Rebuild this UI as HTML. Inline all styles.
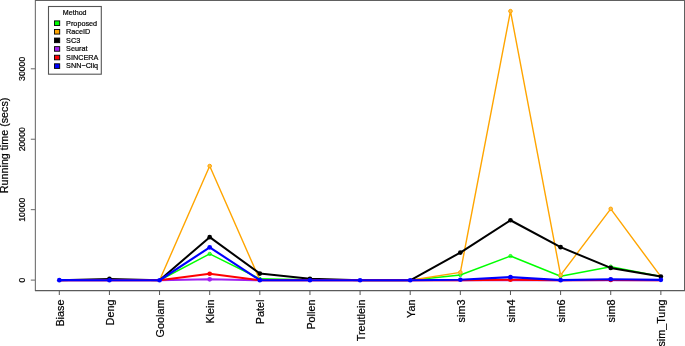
<!DOCTYPE html>
<html><head><meta charset="utf-8"><style>
html,body{margin:0;padding:0;background:#fff;}
body{width:685px;height:346px;overflow:hidden;}
svg{display:block;font-family:"Liberation Sans",sans-serif;}
</style></head><body>
<svg width="685" height="346" viewBox="0 0 685 346">
<rect width="685" height="346" fill="#fff"/>
<line x1="30.8" y1="280.10" x2="35.3" y2="280.10" stroke="#666" stroke-width="1"/>
<line x1="30.8" y1="209.67" x2="35.3" y2="209.67" stroke="#666" stroke-width="1"/>
<line x1="30.8" y1="139.23" x2="35.3" y2="139.23" stroke="#666" stroke-width="1"/>
<line x1="30.8" y1="68.80" x2="35.3" y2="68.80" stroke="#666" stroke-width="1"/>
<line x1="59.30" y1="290.5" x2="59.30" y2="295" stroke="#555" stroke-width="1"/>
<line x1="109.43" y1="290.5" x2="109.43" y2="295" stroke="#555" stroke-width="1"/>
<line x1="159.56" y1="290.5" x2="159.56" y2="295" stroke="#555" stroke-width="1"/>
<line x1="209.69" y1="290.5" x2="209.69" y2="295" stroke="#555" stroke-width="1"/>
<line x1="259.82" y1="290.5" x2="259.82" y2="295" stroke="#555" stroke-width="1"/>
<line x1="309.95" y1="290.5" x2="309.95" y2="295" stroke="#555" stroke-width="1"/>
<line x1="360.08" y1="290.5" x2="360.08" y2="295" stroke="#555" stroke-width="1"/>
<line x1="410.21" y1="290.5" x2="410.21" y2="295" stroke="#555" stroke-width="1"/>
<line x1="460.34" y1="290.5" x2="460.34" y2="295" stroke="#555" stroke-width="1"/>
<line x1="510.47" y1="290.5" x2="510.47" y2="295" stroke="#555" stroke-width="1"/>
<line x1="560.60" y1="290.5" x2="560.60" y2="295" stroke="#555" stroke-width="1"/>
<line x1="610.73" y1="290.5" x2="610.73" y2="295" stroke="#555" stroke-width="1"/>
<line x1="660.86" y1="290.5" x2="660.86" y2="295" stroke="#555" stroke-width="1"/>
<polyline points="59.30,280.25 109.43,280.25 159.56,280.25 209.69,253.95 259.82,278.85 309.95,279.65 360.08,280.35 410.21,280.35 460.34,275.05 510.47,256.05 560.60,276.25 610.73,266.65 660.86,276.45" fill="none" stroke="#00FF00" stroke-width="1.5" stroke-linejoin="round"/>
<circle cx="209.69" cy="253.95" r="1.6" fill="none" stroke="#00FF00" stroke-width="1"/>
<circle cx="259.82" cy="278.85" r="1.6" fill="none" stroke="#00FF00" stroke-width="1"/>
<circle cx="309.95" cy="279.65" r="1.6" fill="none" stroke="#00FF00" stroke-width="1"/>
<circle cx="460.34" cy="275.05" r="1.6" fill="none" stroke="#00FF00" stroke-width="1"/>
<circle cx="510.47" cy="256.05" r="1.6" fill="none" stroke="#00FF00" stroke-width="1"/>
<circle cx="560.60" cy="276.25" r="1.6" fill="none" stroke="#00FF00" stroke-width="1"/>
<circle cx="610.73" cy="266.65" r="1.6" fill="none" stroke="#00FF00" stroke-width="1"/>
<polyline points="59.30,280.25 109.43,280.25 159.56,280.25 209.69,166.05 259.82,279.95 309.95,280.25 360.08,280.25 410.21,280.25 460.34,272.35 510.47,11.15 560.60,275.15 610.73,208.85 660.86,276.65" fill="none" stroke="#FFA500" stroke-width="1.4" stroke-linejoin="round"/>
<circle cx="209.69" cy="166.05" r="1.8" fill="#FFC04D" stroke="#FFA500" stroke-width="1"/>
<circle cx="460.34" cy="272.35" r="1.8" fill="#FFC04D" stroke="#FFA500" stroke-width="1"/>
<circle cx="510.47" cy="11.15" r="1.8" fill="#FFC04D" stroke="#FFA500" stroke-width="1"/>
<circle cx="560.60" cy="275.15" r="1.8" fill="#FFC04D" stroke="#FFA500" stroke-width="1"/>
<circle cx="610.73" cy="208.85" r="1.8" fill="#FFC04D" stroke="#FFA500" stroke-width="1"/>
<polyline points="59.30,280.25 109.43,278.95 159.56,280.25 209.69,237.15 259.82,273.55 309.95,278.85 360.08,280.35 410.21,280.35 460.34,252.55 510.47,220.25 560.60,247.15 610.73,267.95 660.86,276.55" fill="none" stroke="#000000" stroke-width="2.0" stroke-linejoin="round"/>
<circle cx="109.43" cy="278.95" r="2.35" fill="#000000"/>
<circle cx="209.69" cy="237.15" r="2.35" fill="#000000"/>
<circle cx="259.82" cy="273.55" r="2.35" fill="#000000"/>
<circle cx="309.95" cy="278.85" r="2.35" fill="#000000"/>
<circle cx="460.34" cy="252.55" r="2.35" fill="#000000"/>
<circle cx="510.47" cy="220.25" r="2.35" fill="#000000"/>
<circle cx="560.60" cy="247.15" r="2.35" fill="#000000"/>
<circle cx="610.73" cy="267.95" r="2.35" fill="#000000"/>
<circle cx="660.86" cy="276.55" r="2.35" fill="#000000"/>
<polyline points="59.30,280.25 109.43,280.25 159.56,280.25 209.69,279.35 259.82,280.25 309.95,280.25 360.08,280.25 410.21,280.25 460.34,280.25 510.47,280.25 560.60,280.25 610.73,280.25 660.86,280.25" fill="none" stroke="#A020F0" stroke-width="2.0" stroke-linejoin="round"/>
<circle cx="209.69" cy="279.35" r="2.35" fill="#A020F0"/>
<polyline points="59.30,280.25 109.43,280.25 159.56,280.25 209.69,273.75 259.82,280.25 309.95,280.25 360.08,280.25 410.21,280.25 460.34,280.25 510.47,279.75 560.60,280.25 610.73,279.95 660.86,280.25" fill="none" stroke="#FF0000" stroke-width="2.0" stroke-linejoin="round"/>
<circle cx="209.69" cy="273.75" r="2.35" fill="#FF0000"/>
<circle cx="510.47" cy="279.75" r="2.35" fill="#FF0000"/>
<circle cx="610.73" cy="279.95" r="2.35" fill="#FF0000"/>
<polyline points="59.30,280.15 109.43,280.25 159.56,280.25 209.69,247.35 259.82,280.15 309.95,280.25 360.08,280.25 410.21,280.25 460.34,279.75 510.47,277.15 560.60,280.15 610.73,279.25 660.86,279.85" fill="none" stroke="#0000FF" stroke-width="2.1" stroke-linejoin="round"/>
<circle cx="59.30" cy="280.15" r="2.35" fill="#0000FF"/>
<circle cx="109.43" cy="280.25" r="2.35" fill="#0000FF"/>
<circle cx="159.56" cy="280.25" r="2.35" fill="#0000FF"/>
<circle cx="209.69" cy="247.35" r="2.35" fill="#0000FF"/>
<circle cx="259.82" cy="280.15" r="2.35" fill="#0000FF"/>
<circle cx="309.95" cy="280.25" r="2.35" fill="#0000FF"/>
<circle cx="360.08" cy="280.25" r="2.35" fill="#0000FF"/>
<circle cx="410.21" cy="280.25" r="2.35" fill="#0000FF"/>
<circle cx="460.34" cy="279.75" r="2.35" fill="#0000FF"/>
<circle cx="510.47" cy="277.15" r="2.35" fill="#0000FF"/>
<circle cx="560.60" cy="280.15" r="2.35" fill="#0000FF"/>
<circle cx="610.73" cy="279.25" r="2.35" fill="#0000FF"/>
<circle cx="660.86" cy="279.85" r="2.35" fill="#0000FF"/>
<line x1="35.4" y1="0" x2="35.4" y2="291" stroke="#7a7a7a" stroke-width="1.2"/>
<line x1="35" y1="0.4" x2="685" y2="0.4" stroke="#606060" stroke-width="1.1"/>
<line x1="684.5" y1="0" x2="684.5" y2="291" stroke="#606060" stroke-width="1"/>
<line x1="35" y1="290.6" x2="685" y2="290.6" stroke="#5a5a5a" stroke-width="1.2"/>
<rect x="48.5" y="6.5" width="52.8" height="67.7" fill="#fff" stroke="#555" stroke-width="1.1"/>
<rect x="54.5" y="20.90" width="5.2" height="4.6" fill="#00FF00" stroke="#000" stroke-width="0.9"/>
<rect x="54.5" y="29.48" width="5.2" height="4.6" fill="#FFA500" stroke="#000" stroke-width="0.9"/>
<rect x="54.5" y="38.06" width="5.2" height="4.6" fill="#000000" stroke="#000" stroke-width="0.9"/>
<rect x="54.5" y="46.64" width="5.2" height="4.6" fill="#A020F0" stroke="#000" stroke-width="0.9"/>
<rect x="54.5" y="55.22" width="5.2" height="4.6" fill="#FF0000" stroke="#000" stroke-width="0.9"/>
<rect x="54.5" y="63.80" width="5.2" height="4.6" fill="#0000FF" stroke="#000" stroke-width="0.9"/>
<defs><filter id="gs" x="0" y="0" width="685" height="346" filterUnits="userSpaceOnUse"><feColorMatrix type="saturate" values="0"/></filter></defs>
<g filter="url(#gs)" fill="#000" stroke="#000" stroke-width="0.2">
<text transform="translate(7.9,145.4) rotate(-90)" text-anchor="middle" font-size="10.75">Running time (secs)</text>
<text transform="translate(24.8,280.10) rotate(-90)" text-anchor="middle" font-size="8.7">0</text>
<text transform="translate(24.8,209.67) rotate(-90)" text-anchor="middle" font-size="8.7">10000</text>
<text transform="translate(24.8,139.23) rotate(-90)" text-anchor="middle" font-size="8.7">20000</text>
<text transform="translate(24.8,68.80) rotate(-90)" text-anchor="middle" font-size="8.7">30000</text>
<text transform="translate(63.90,299.6) rotate(-90)" text-anchor="end" font-size="10.8">Biase</text>
<text transform="translate(114.03,299.6) rotate(-90)" text-anchor="end" font-size="10.8">Deng</text>
<text transform="translate(164.16,299.6) rotate(-90)" text-anchor="end" font-size="10.8">Goolam</text>
<text transform="translate(214.29,299.6) rotate(-90)" text-anchor="end" font-size="10.8">Klein</text>
<text transform="translate(264.42,299.6) rotate(-90)" text-anchor="end" font-size="10.8">Patel</text>
<text transform="translate(314.55,299.6) rotate(-90)" text-anchor="end" font-size="10.8">Pollen</text>
<text transform="translate(364.68,299.6) rotate(-90)" text-anchor="end" font-size="10.8">Treutlein</text>
<text transform="translate(414.81,299.6) rotate(-90)" text-anchor="end" font-size="10.8">Yan</text>
<text transform="translate(464.94,299.6) rotate(-90)" text-anchor="end" font-size="10.8">sim3</text>
<text transform="translate(515.07,299.6) rotate(-90)" text-anchor="end" font-size="10.8">sim4</text>
<text transform="translate(565.20,299.6) rotate(-90)" text-anchor="end" font-size="10.8">sim6</text>
<text transform="translate(615.33,299.6) rotate(-90)" text-anchor="end" font-size="10.8">sim8</text>
<text transform="translate(665.46,299.6) rotate(-90)" text-anchor="end" font-size="10.8">sim_Tung</text>
<text x="74.7" y="14.6" text-anchor="middle" font-size="7.1">Method</text>
<text x="66.1" y="25.50" font-size="7.25">Proposed</text>
<text x="66.1" y="34.08" font-size="7.25">RaceID</text>
<text x="66.1" y="42.66" font-size="7.25">SC3</text>
<text x="66.1" y="51.24" font-size="7.25">Seurat</text>
<text x="66.1" y="59.82" font-size="7.25">SINCERA</text>
<text x="66.1" y="68.40" font-size="7.25">SNN−Cliq</text>
</g>
</svg>
</body></html>
